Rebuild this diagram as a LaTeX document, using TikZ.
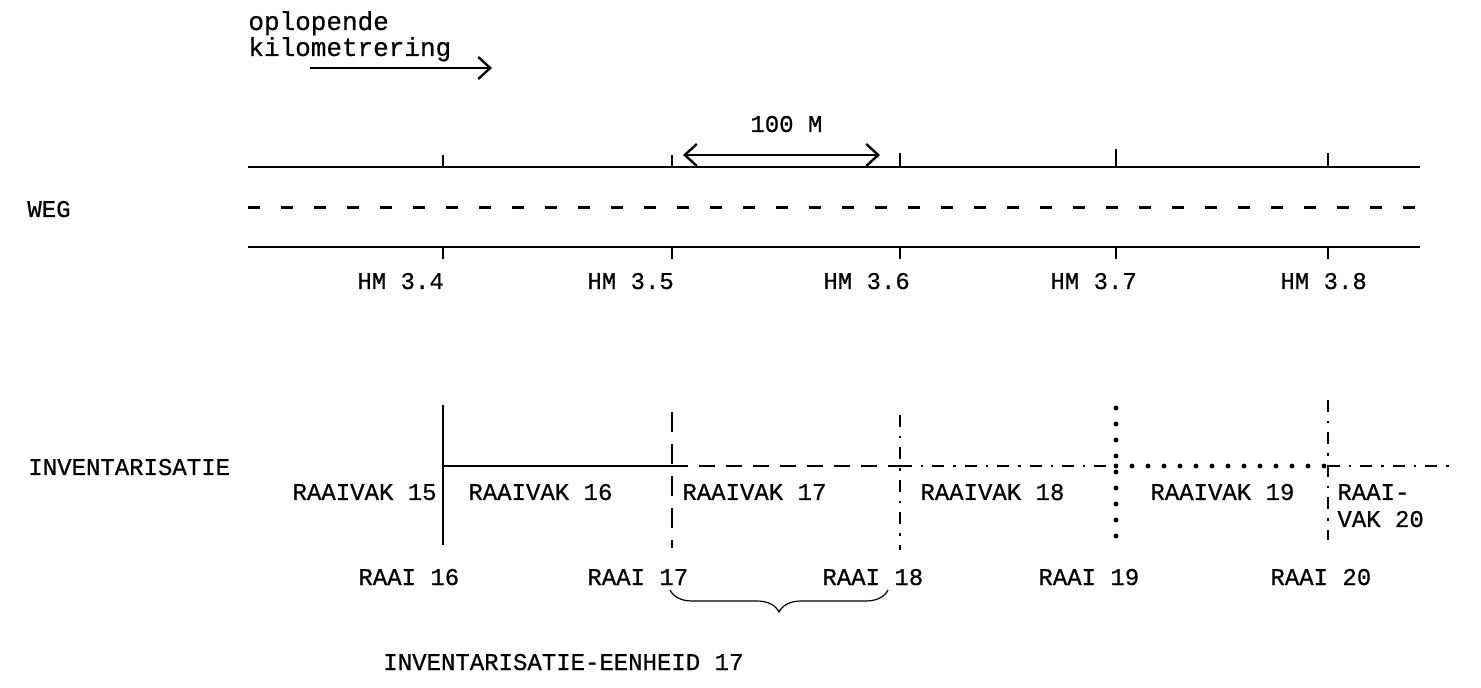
\documentclass[tikz,border=0pt]{standalone}
\usepackage{fontspec}
\newfontfamily\typew{Liberation Mono}[FakeBold=0.6]
\usetikzlibrary{arrows.meta,decorations.pathreplacing}
\begin{document}
\begin{tikzpicture}[x=0.5pt,y=-0.5pt,
  font=\typew\fontsize{12}{14}\selectfont,
  lbl/.style={inner sep=0pt, anchor=base west},
  lble/.style={inner sep=0pt, anchor=base east},
  lower/.style={font=\typew\fontsize{13}{15}\selectfont},
  road/.style={line width=1.3pt},
  tickline/.style={line width=1.1pt},
  roadmid/.style={line width=1.5pt, dash pattern=on 6pt off 10.5pt},
  solidln/.style={line width=1.3pt},
  dashln/.style={line width=1.3pt, dash pattern=on 8pt off 5.5pt},
  vdashln/.style={line width=1.3pt, dash pattern=on 10pt off 6pt},
  dashdotln/.style={line width=1.3pt, dash pattern=on 6pt off 4.5pt on 1.2pt off 4.5pt},
  dotln/.style={line width=2.4pt, line cap=round, dash pattern=on 0pt off 8pt},
  barb/.style={line width=1.2pt, -{Straight Barb[length=6pt,width=11pt]}},
  dbarb/.style={line width=1.2pt, {Straight Barb[length=6pt,width=11pt]}-{Straight Barb[length=6pt,width=11pt]}},
  bracestyle/.style={line width=0.6pt, decorate, decoration={brace, mirror, amplitude=11pt}}
]
\useasboundingbox (0,0) rectangle (1481,688);

% top texts
\node[lbl, lower] (opl) at (248,30) {oplopende};
\node[lbl, lower] (kil) at (248,56) {kilometrering};
\coordinate (ka0) at (310,68);
\coordinate (ka1) at (492,68);
\draw[barb] (ka0) -- (ka1);

\node[lbl] (hundred) at (750,132) {100 M};
\coordinate (ma0) at (683,155);
\coordinate (ma1) at (880,155);
\draw[dbarb] (ma0) -- (ma1);

% road
\node[lbl] (weg) at (27,217) {WEG};
\coordinate (rt0) at (248,167); \coordinate (rt1) at (1420,167);
\coordinate (rm0) at (248,208); \coordinate (rm1) at (1420,208);
\coordinate (rb0) at (248,247); \coordinate (rb1) at (1420,247);
\draw[road] (rt0) -- (rt1);
\draw[roadmid] (rm0) -- (rm1);
\draw[road] (rb0) -- (rb1);

\foreach \n/\x/\h in {a/443/12, b/672/12, c/900/14, d/1116/18, e/1328/14}{
  \coordinate (tt\n) at (\x,167);
  \coordinate (tu\n) at (\x,167-\h);
  \coordinate (bt\n) at (\x,247);
  \coordinate (bu\n) at (\x,259);
  \draw[tickline] (tt\n) -- (tu\n);
  \draw[tickline] (bt\n) -- (bu\n);
}

\node[lbl] (hm34) at (357,289) {HM 3.4};
\node[lbl] (hm35) at (587,289) {HM 3.5};
\node[lbl] (hm36) at (823,289) {HM 3.6};
\node[lbl] (hm37) at (1050,289) {HM 3.7};
\node[lbl] (hm38) at (1280,289) {HM 3.8};

% inventarisatie
\node[lbl] (inv) at (28,475) {INVENTARISATIE};

\coordinate (h0) at (443,466);
\coordinate (h1) at (672,466);
\coordinate (h2) at (900,466);
\coordinate (h3) at (1116,466);
\coordinate (h4) at (1328,466);
\coordinate (h5) at (1450,466);
\draw[solidln] (h0) -- (h1);
\draw[dashln] (h1) -- (h2);
\draw[dashdotln] (h2) -- (h3);
\draw[dotln] (h3) -- (h4);
\draw[dashdotln] (h4) -- (h5);

\coordinate (v0t) at (443,405); \coordinate (v0b) at (443,545);
\coordinate (v1t) at (672,412); \coordinate (v1b) at (672,548);
\coordinate (v2t) at (900,415); \coordinate (v2b) at (900,550);
\coordinate (v3t) at (1116,408); \coordinate (v3b) at (1116,548);
\coordinate (v4t) at (1328,400); \coordinate (v4b) at (1328,540);
\draw[solidln] (v0t) -- (v0b);
\draw[vdashln] (v1t) -- (v1b);
\draw[dashdotln] (v2t) -- (v2b);
\draw[dotln] (v3t) -- (v3b);
\draw[dashdotln] (v4t) -- (v4b);

\node[lble] (rv15) at (437,500) {RAAIVAK 15};
\node[lbl] (rv16) at (468,500) {RAAIVAK 16};
\node[lbl] (rv17) at (682,500) {RAAIVAK 17};
\node[lbl] (rv18) at (920,500) {RAAIVAK 18};
\node[lbl] (rv19) at (1150,500) {RAAIVAK 19};
\node[lbl] (rv20a) at (1337,500) {RAAI-};
\node[lbl] (rv20b) at (1337,527) {VAK 20};

\node[lbl] (r16) at (358,585) {RAAI 16};
\node[lbl] (r17) at (587,585) {RAAI 17};
\node[lbl] (r18) at (822,585) {RAAI 18};
\node[lbl] (r19) at (1038,585) {RAAI 19};
\node[lbl] (r20) at (1270,585) {RAAI 20};

\coordinate (br0) at (670,590);
\coordinate (br1) at (888,590);
\draw[bracestyle] (br0) -- (br1);

\node[lbl] (eenheid) at (383,670) {INVENTARISATIE-EENHEID 17};
\end{tikzpicture}
\end{document}
